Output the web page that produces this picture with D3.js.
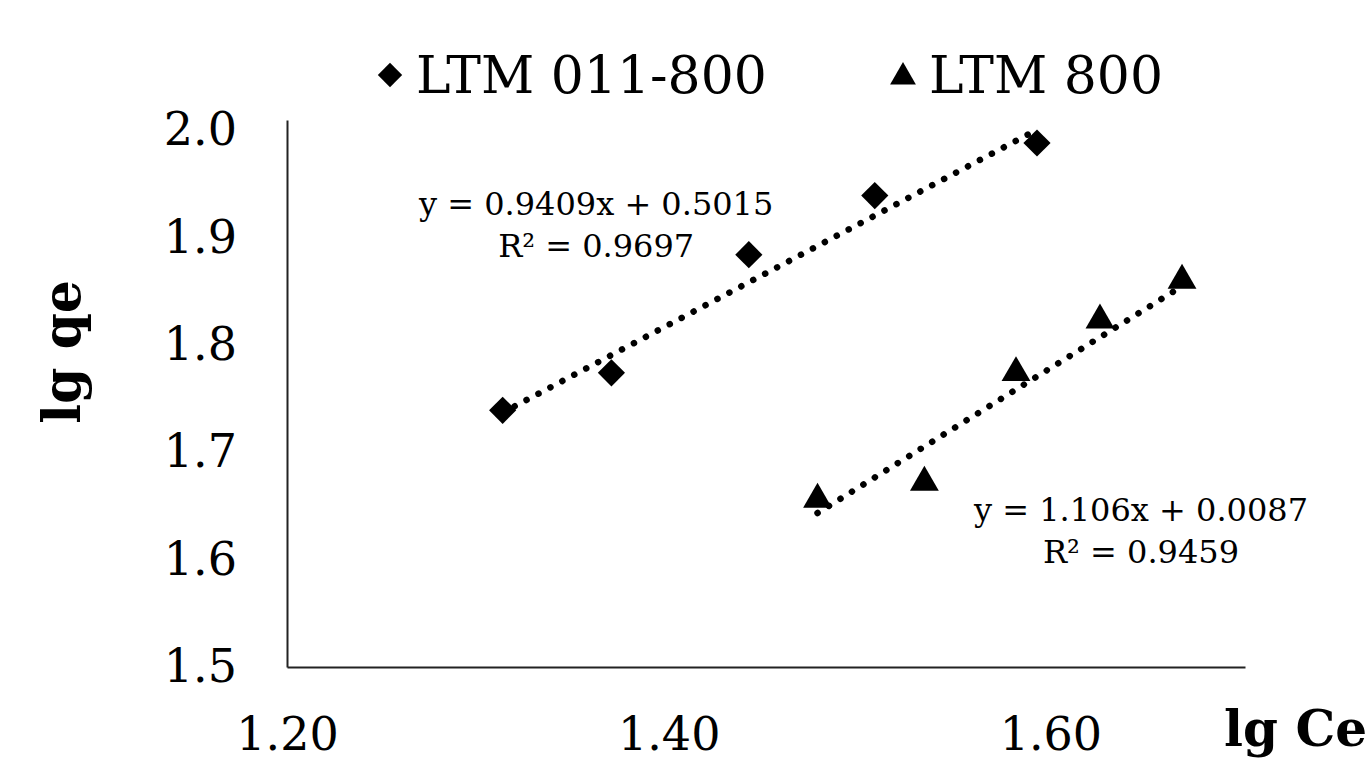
<!DOCTYPE html>
<html>
<head>
<meta charset="utf-8">
<script src="https://cdn.jsdelivr.net/npm/d3@7"></script>
<style>
  body { margin: 0; background: #fff; }
  svg text { font-family: Georgia, "DejaVu Serif", serif; fill: #000; }
</style>
</head>
<body>
<svg width="1371" height="762"></svg>
<script>
// series data (lg Ce, lg qe)
var seriesNames = ["LTM 011-800", "LTM 800"];
var ltm011X = [1.313, 1.370, 1.442, 1.508, 1.593];
var ltm011Y = [1.739, 1.774, 1.884, 1.939, 1.988];
var ltm800X = [1.478, 1.534, 1.582, 1.626, 1.669];
var ltm800Y = [1.656, 1.672, 1.774, 1.823, 1.860];
// trendline coefficients [slope, intercept]
var trendCoef = [[0.9409, 0.5015], [1.106, 0.0087]];
var trendText = [["y = 0.9409x + 0.5015", "R\u00b2 = 0.9697"], ["y = 1.106x + 0.0087", "R\u00b2 = 0.9459"]];
var xTicks = [1.2, 1.4, 1.6];
var yTicks = [1.5, 1.6, 1.7, 1.8, 1.9, 2.0];

var svg = d3.select("svg"),
    margin = {top: 120, right: 126, bottom: 95, left: 287},
    width = +svg.attr("width") - margin.left - margin.right,
    height = +svg.attr("height") - margin.top - margin.bottom;

var x = d3.scaleLinear().domain([1.2, 1.702]).range([0, width]),
    y = d3.scaleLinear().domain([1.5, 2.0094]).range([height, 0]);

var g = svg.append("g")
    .attr("transform", "translate(" + margin.left + "," + margin.top + ")");

var series = [
  {name: seriesNames[0], pts: ltm011X.map(function(v, i){ return [v, ltm011Y[i]]; }), sym: d3.symbolSquare, rot: 45, size: 370},
  {name: seriesNames[1], pts: ltm800X.map(function(v, i){ return [v, ltm800Y[i]]; }), sym: d3.symbolTriangle, rot: 0, size: 360}
];

// axes
var xAxis = g.append('g')
    .attr('transform', 'translate(0,' + height + ')')
    .call(d3.axisBottom(x).tickValues(xTicks).tickSize(0).tickPadding(50).tickFormat(d3.format('.2f')));
xAxis.select('.domain').attr('stroke', '#222').attr('stroke-width', 2);
xAxis.selectAll('text').attr('font-size', 46).attr('fill', '#000');

var yAxis = g.append('g')
    .call(d3.axisLeft(y).tickValues(yTicks).tickSize(0).tickPadding(50).tickFormat(d3.format('.1f')));
yAxis.select('.domain').attr('stroke', '#222').attr('stroke-width', 2);
yAxis.selectAll('text').attr('font-size', 46).attr('fill', '#000');

// trendlines
series.forEach(function(s, i) {
  var x0 = d3.min(s.pts, function(d){ return d[0]; }),
      x1 = d3.max(s.pts, function(d){ return d[0]; }),
      c = trendCoef[i];
  g.append('line')
    .attr('x1', x(x0)).attr('y1', y(c[0] * x0 + c[1]))
    .attr('x2', x(x1)).attr('y2', y(c[0] * x1 + c[1]))
    .attr('stroke', '#000')
    .attr('stroke-width', 6.5)
    .attr('stroke-linecap', 'round')
    .attr('stroke-dasharray', '0.1,13.4');
});

// markers
series.forEach(function(s) {
  g.selectAll(null).data(s.pts).enter().append('path')
    .attr('d', d3.symbol().type(s.sym).size(s.size))
    .attr('transform', function(d){ return 'translate(' + x(d[0]) + ',' + y(d[1]) + ') rotate(' + s.rot + ')'; })
    .attr('fill', '#000');
});

// trendline labels
var eqPos = [[1.362, 1.9205], [1.6475, 1.636]];
trendText.forEach(function(t, i) {
  var tx = g.append('text')
    .attr('x', x(eqPos[i][0]))
    .attr('y', y(eqPos[i][1]))
    .attr('text-anchor', 'middle')
    .attr('font-size', 32);
  tx.append('tspan').attr('x', x(eqPos[i][0])).text(t[0]);
  tx.append('tspan').attr('x', x(eqPos[i][0])).attr('dy', 42).text(t[1]);
});

// legend
var legend = svg.append('g').attr('transform', 'translate(0,75)');
var legX = [390, 903];
series.forEach(function(s, i) {
  legend.append('path')
    .attr('d', d3.symbol().type(s.sym).size(s.size * 0.8))
    .attr('transform', 'translate(' + legX[i] + ',' + (i === 0 ? 0 : 2) + ') rotate(' + s.rot + ')')
    .attr('fill', '#000');
  legend.append('text')
    .attr('x', legX[i] + 26)
    .attr('y', 18)
    .attr('font-size', 52)
    .text(s.name);
});

// axis titles
svg.append('text')
    .attr('transform', 'translate(80,352) rotate(-90)')
    .attr('text-anchor', 'middle')
    .attr('font-size', 52)
    .attr('font-weight', 'bold')
    .text('lg qe');

svg.append('text')
    .attr('x', 1367)
    .attr('y', 746)
    .attr('text-anchor', 'end')
    .attr('font-size', 50)
    .attr('font-weight', 'bold')
    .text('lg Ce');
</script>
</body>
</html>
